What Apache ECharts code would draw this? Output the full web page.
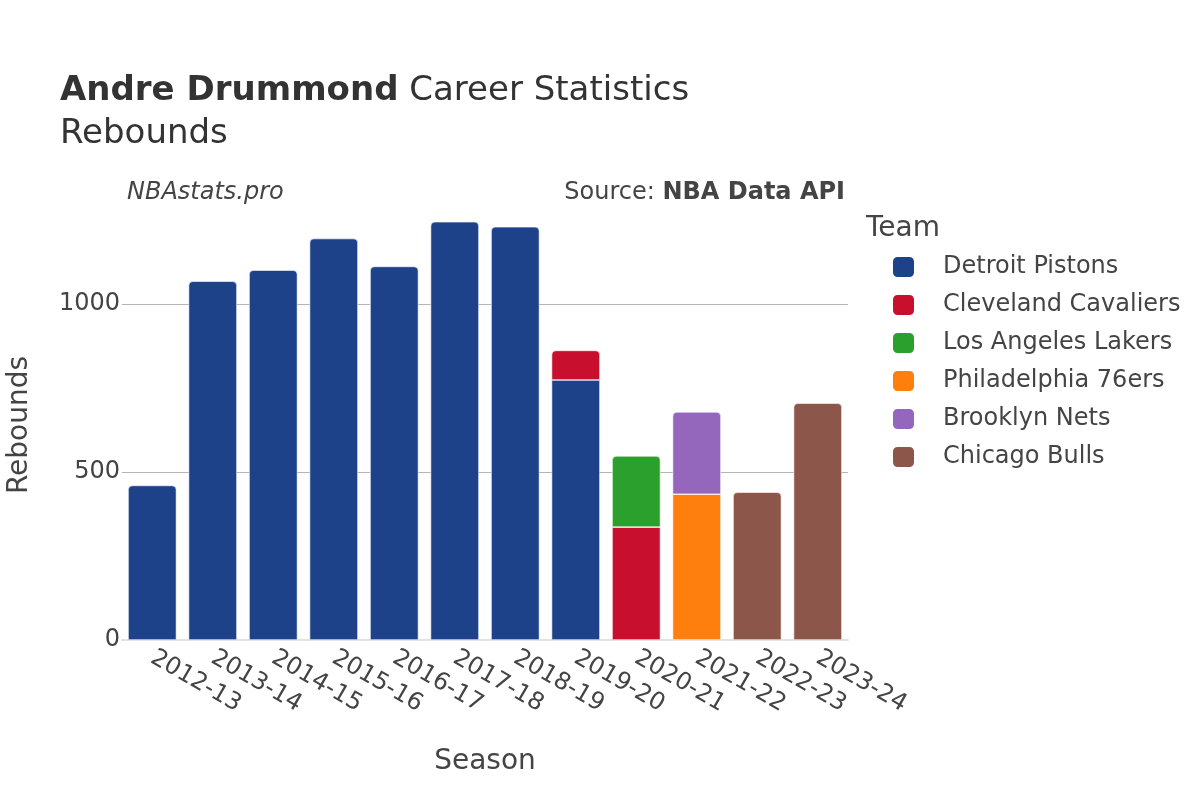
<!DOCTYPE html>
<html>
<head>
<meta charset="utf-8">
<script src="https://cdn.jsdelivr.net/npm/echarts@6/dist/echarts.min.js"></script>
<style>
  html, body { margin: 0; padding: 0; background: #fff; }
  #chart { width: 1200px; height: 800px; }
</style>
</head>
<body>
<div id="chart"></div>
<script>
// seasons on the x axis
const seasons = ["2012-13", "2013-14", "2014-15", "2015-16", "2016-17", "2017-18",
  "2018-19", "2019-20", "2020-21", "2021-22", "2022-23", "2023-24"];

// rebounds per team per season (null = did not play for that team)
const detroit = [460, 1068, 1101, 1195, 1112, 1245, 1230, 774, null, null, null, null];
const cleveland = [null, null, null, null, null, null, null, 88, 336, null, null, null];
const lakers = [null, null, null, null, null, null, null, null, 212, null, null, null];
const philly = [null, null, null, null, null, null, null, null, null, 434, null, null];
const nets = [null, null, null, null, null, null, null, null, null, 245, null, null];
const chicago = [null, null, null, null, null, null, null, null, null, null, 440, 705];

const teams = ["Detroit Pistons", "Cleveland Cavaliers", "Los Angeles Lakers",
  "Philadelphia 76ers", "Brooklyn Nets", "Chicago Bulls"];
const colors = ["#1d428a", "#c8102e", "#2ca02c", "#ff7f0e", "#9467bd", "#8c564b"];
const yTicks = [0, 500, 1000];

const font = "DejaVu Sans";
const allSeries = [detroit, cleveland, lakers, philly, nets, chicago];

// the last team that has a value in a season gets the rounded top
function topIndex(col) {
  let top = -1;
  allSeries.forEach((s, i) => { if (s[col] != null) top = i; });
  return top;
}

const series = allSeries.map((values, i) => ({
  name: teams[i],
  type: "bar",
  stack: "total",
  barCategoryGap: "20%",
  itemStyle: { color: colors[i], borderColor: "#fff", borderWidth: 0.6 },
  data: values.map((v, col) => v == null ? null : {
    value: v,
    itemStyle: { borderRadius: topIndex(col) === i ? [4, 4, 0, 0] : 0 }
  })
}));

const chart = echarts.init(document.getElementById("chart"));
chart.setOption({
  animation: false,
  textStyle: { fontFamily: font },
  title: [
    {
      text: "{b|Andre Drummond} Career Statistics\nRebounds",
      left: 55,
      top: 65,
      textStyle: {
        fontFamily: font, fontSize: 34, fontWeight: "normal", color: "#333",
        lineHeight: 43,
        rich: { b: { fontFamily: font, fontSize: 34, fontWeight: "bold", color: "#333", lineHeight: 43 } }
      }
    },
    {
      text: "NBAstats.pro",
      left: 122, top: 175,
      textStyle: { fontFamily: font, fontSize: 24, fontStyle: "italic", fontWeight: "normal", color: "#444", lineHeight: 26 }
    },
    {
      text: "Source: {b|NBA Data API}",
      right: 350, top: 175,
      textStyle: {
        fontFamily: font, fontSize: 24, fontWeight: "normal", color: "#444", lineHeight: 26,
        rich: { b: { fontFamily: font, fontSize: 24, fontWeight: "bold", color: "#444", lineHeight: 26 } }
      }
    },
    {
      text: "Team",
      left: 861, top: 209,
      textStyle: { fontFamily: font, fontSize: 28, fontWeight: "normal", color: "#444", lineHeight: 30 }
    }
  ],
  legend: {
    orient: "vertical",
    left: 886,
    top: 250,
    itemWidth: 23,
    itemHeight: 22,
    itemGap: 14,
    icon: "roundRect",
    textStyle: { fontFamily: font, fontSize: 24, color: "#444", lineHeight: 22, padding: [0, 0, 0, 23] },
    data: teams
  },
  grid: { left: 122, right: 352, top: 210, bottom: 160, outerBoundsMode: "none" },
  xAxis: {
    type: "category",
    data: seasons,
    name: "Season",
    nameLocation: "middle",
    nameGap: 108,
    nameTextStyle: { fontFamily: font, fontSize: 28, color: "#444" },
    axisLine: { lineStyle: { color: "#e2e2e2", width: 2 } },
    axisTick: { show: false },
    axisLabel: { rotate: -30, interval: 0, fontSize: 24, color: "#444", margin: 16, fontFamily: font }
  },
  yAxis: {
    type: "value",
    min: 0,
    max: 1280,
    interval: 500,
    name: "Rebounds",
    nameLocation: "middle",
    nameGap: 88,
    nameTextStyle: { fontFamily: font, fontSize: 28, color: "#444" },
    axisLine: { show: false },
    axisTick: { show: false },
    axisLabel: {
      fontSize: 24, color: "#444", margin: 2, fontFamily: font, showMaxLabel: false,
      formatter: v => yTicks.indexOf(v) >= 0 ? String(v) : ""
    },
    splitLine: { lineStyle: { color: ["transparent", "#b4b4b4", "#b4b4b4", "transparent"], width: 1 } }
  },
  series: series
});
</script>
</body>
</html>
